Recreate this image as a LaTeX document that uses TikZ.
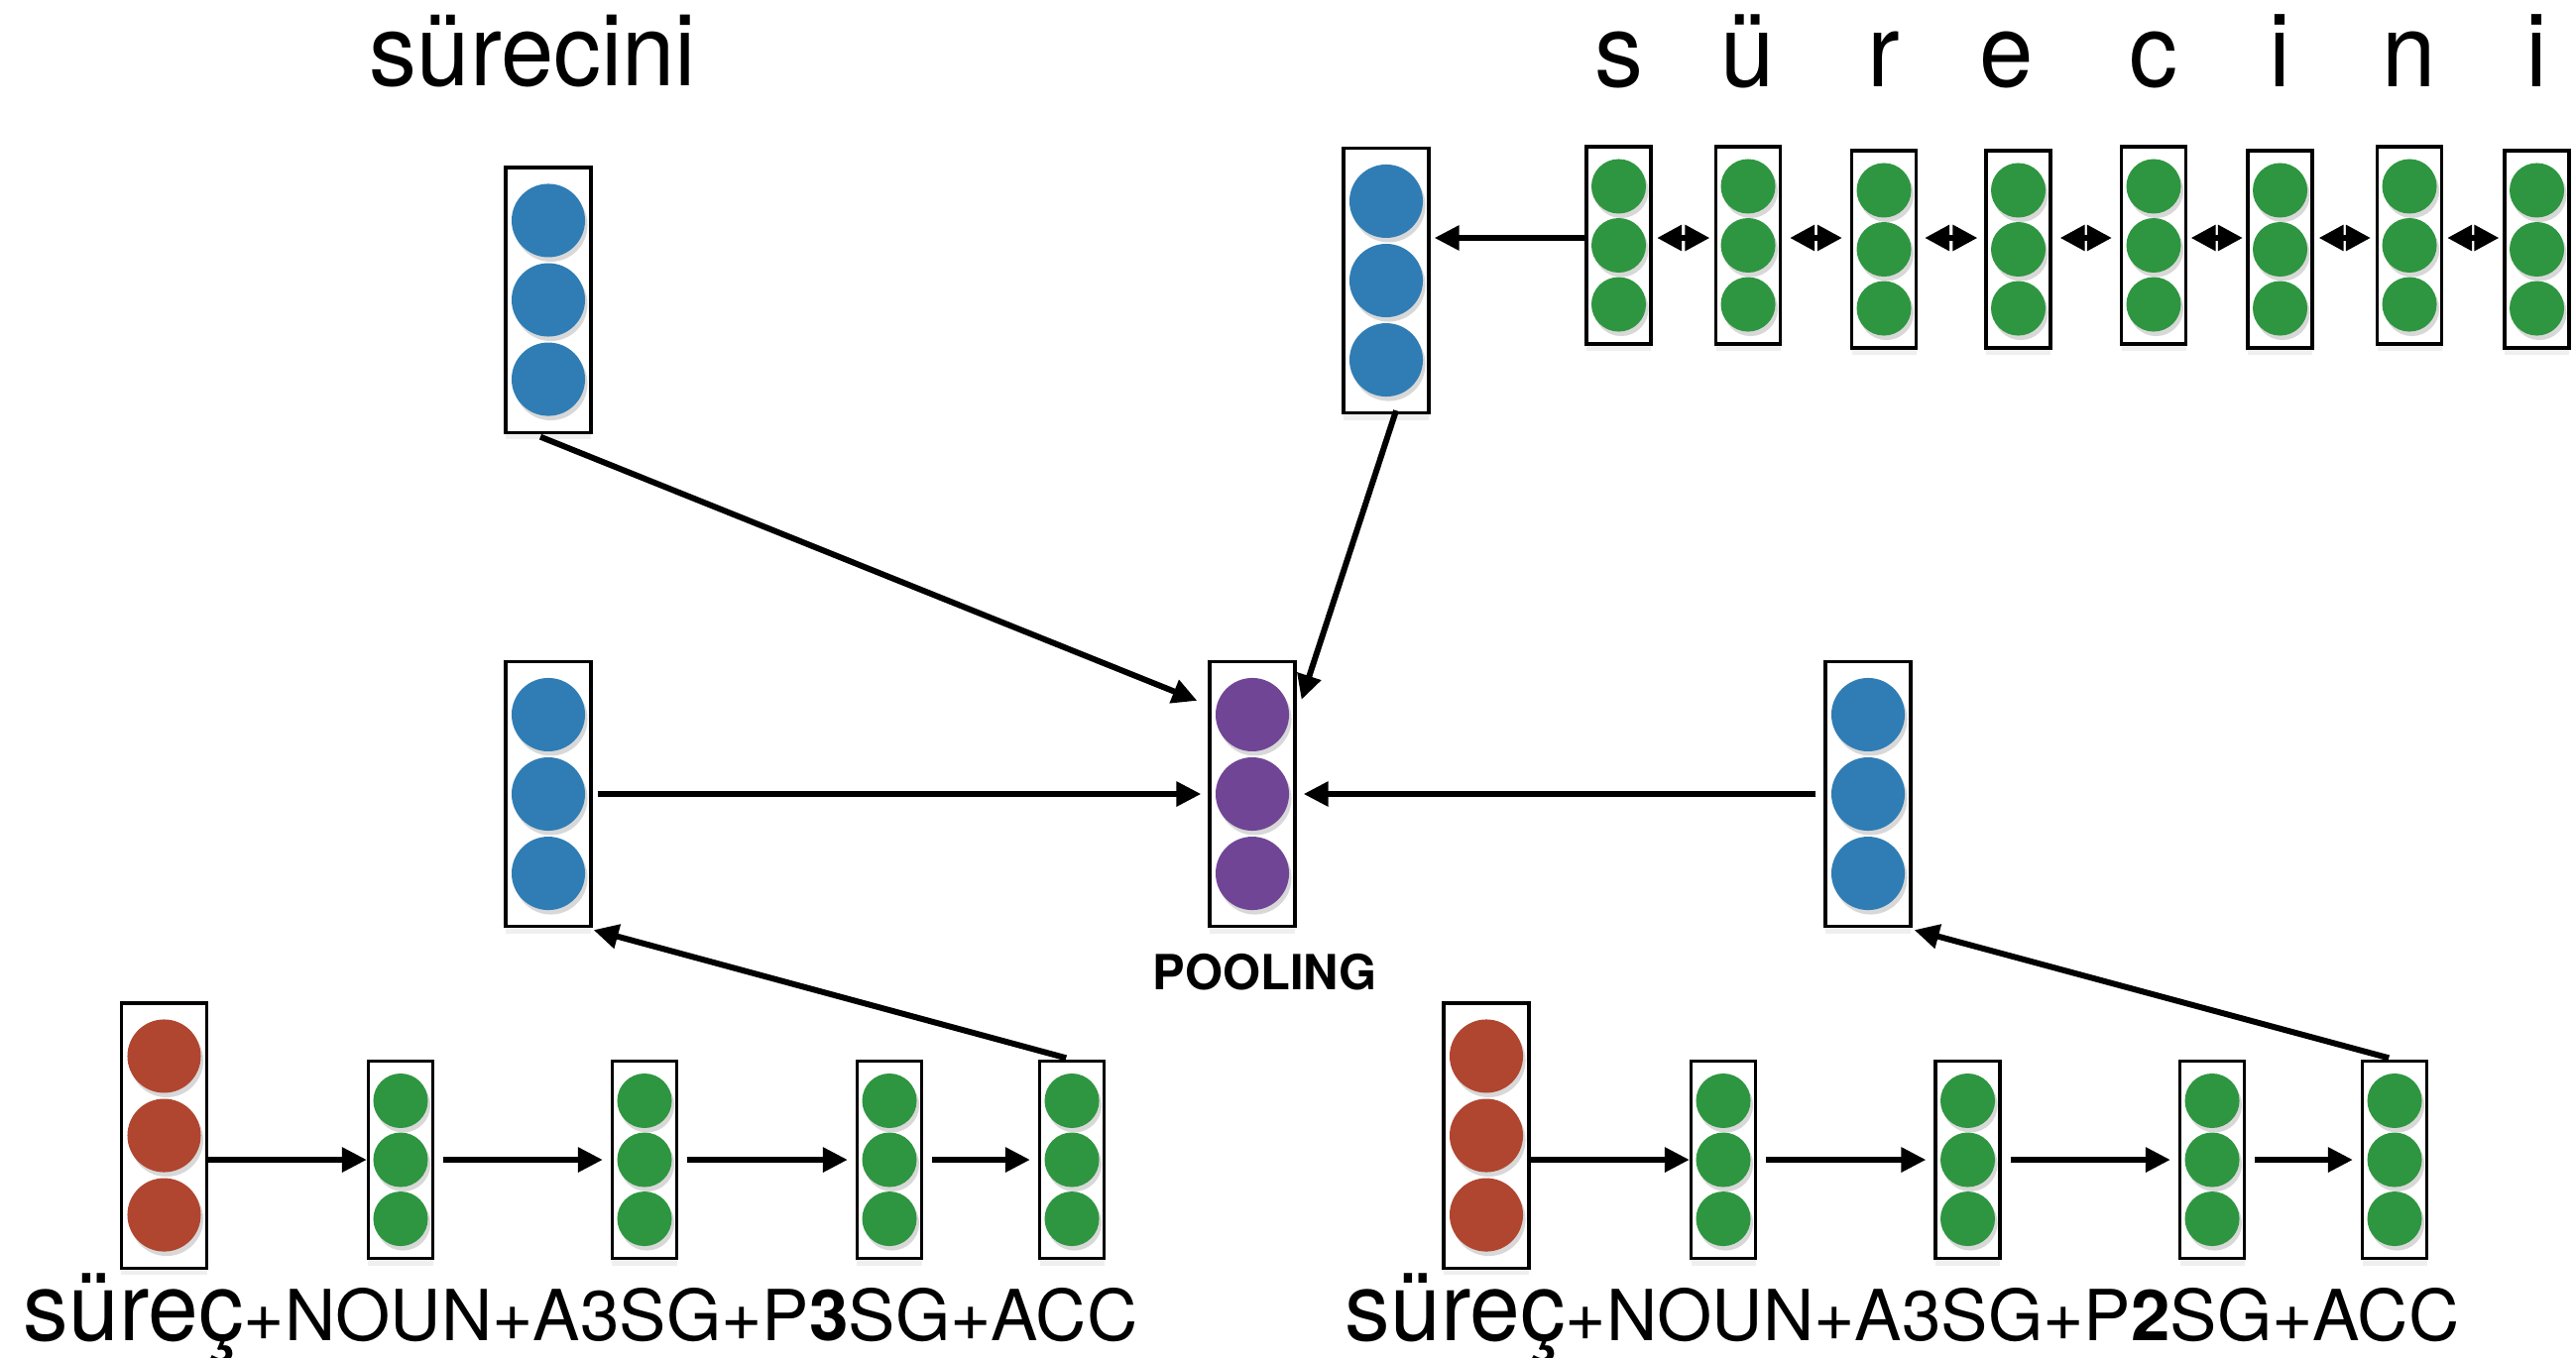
\documentclass[tikz,border=0pt]{standalone}
\usepackage{fontspec}
\usepackage{tikz}
\usetikzlibrary{positioning,arrows.meta,shadows,calc}
\newfontfamily\wordfont{TeX Gyre Heros}[FakeStretch=0.95]
\newfontfamily\tagfont{TeX Gyre Heros}
\definecolor{vecblue}{HTML}{2F7DB4}
\definecolor{vecgreen}{HTML}{2E9640}
\definecolor{vecred}{HTML}{B04630}
\definecolor{vecpurple}{HTML}{704596}
\tikzset{
  dotshadow/.style ={drop shadow={opacity=0.3,shadow xshift=0.25mm,shadow yshift=-0.45mm}},
  vecbox/.style    ={draw=black,line width=0.9pt,fill=white,inner sep=0pt,
                     drop shadow={opacity=0.12,shadow xshift=0pt,shadow yshift=-0.7mm}},
  bigvec/.style    ={vecbox,minimum width=8.6mm,minimum height=26.7mm,
                     path picture={
                       \fill[#1,dotshadow] ([yshift=8mm]path picture bounding box.center) circle[radius=3.7mm];
                       \fill[#1,dotshadow] (path picture bounding box.center) circle[radius=3.7mm];
                       \fill[#1,dotshadow] ([yshift=-8mm]path picture bounding box.center) circle[radius=3.7mm];}},
  smallvec/.style  ={vecbox,minimum width=6.5mm,minimum height=19.9mm,
                     path picture={
                       \fill[#1,dotshadow] ([yshift=5.95mm]path picture bounding box.center) circle[radius=2.75mm];
                       \fill[#1,dotshadow] (path picture bounding box.center) circle[radius=2.75mm];
                       \fill[#1,dotshadow] ([yshift=-5.95mm]path picture bounding box.center) circle[radius=2.75mm];}},
  word/.style      ={font=\wordfont\fontsize{28.7pt}{30pt}\selectfont,anchor=base,inner sep=0pt},
  chr/.style       ={word,font=\wordfont\fontsize{29.3pt}{31pt}\selectfont},
  gloss/.style     ={anchor=base west,inner sep=0pt},
  lbl/.style       ={font=\tagfont\bfseries\fontsize{13.9pt}{15pt}\selectfont,anchor=base,inner sep=0pt},
  arr/.style       ={-{Triangle[length=2.5mm,width=2.4mm]},line width=1.7pt},
  dblarr/.style    ={{Triangle[length=2.5mm,width=2.5mm]}-{Triangle[length=2.5mm,width=2.5mm]},line width=1.7pt},
}
\newcommand{\stemtxt}[1]{{\wordfont\fontsize{27.3pt}{29pt}\selectfont #1}}
\newcommand{\tagtxt}[1]{{\tagfont\fontsize{20.2pt}{22pt}\selectfont #1}}

\begin{document}
\begin{tikzpicture}[x=0.01cm,y=-0.01cm]
  \path[use as bounding box,fill=white] (0,0) rectangle (2598,1369);

  % word vector
  \node[word] (wtop) at (537.5,86) {sürecini};
  \node[bigvec=vecblue] (tl) at (553,302.5) {};

  % character encoder
  \node[bigvec=vecblue] (tr) at (1398,283) {};
  \node[smallvec=vecgreen] (c1) at (1632.5,247.5) {};
  \node[smallvec=vecgreen] (c2) at (1763,247.5) {};
  \node[smallvec=vecgreen] (c3) at (1900,251.5) {};
  \node[smallvec=vecgreen] (c4) at (2035.5,251.5) {};
  \node[smallvec=vecgreen] (c5) at (2172,247.5) {};
  \node[smallvec=vecgreen] (c6) at (2299.5,251.5) {};
  \node[smallvec=vecgreen] (c7) at (2430,247.5) {};
  \node[smallvec=vecgreen] (c8) at (2558.5,251.5) {};
  \coordinate (toprow) at (0,240);
  \coordinate (chrline) at (0,87);
  \node[chr] (s1) at (c1 |- chrline) {s};
  \node[chr] (s2) at (c2 |- chrline) {ü};
  \node[chr] (s3) at (c3 |- chrline) {r};
  \node[chr] (s4) at (2024,87) {e};
  \node[chr] (s5) at (c5 |- chrline) {c};
  \node[chr] (s6) at (c6 |- chrline) {i};
  \node[chr] (s7) at (c7 |- chrline) {n};
  \node[chr] (s8) at (c8 |- chrline) {i};

  % pooling row
  \node[bigvec=vecblue] (ml) at (553,801) {};
  \node[bigvec=vecpurple] (pool) at (1263,801) {};
  \node[bigvec=vecblue] (mr) at (1884,801) {};
  \node[lbl] (plbl) at (1275.5,998) {POOLING};

  % morphological analyses
  \node[bigvec=vecred] (rl) at (165.5,1145.5) {};
  \node[smallvec=vecgreen] (gl1) at (404,1170) {};
  \node[smallvec=vecgreen] (gl2) at (650,1170) {};
  \node[smallvec=vecgreen] (gl3) at (897,1170) {};
  \node[smallvec=vecgreen] (gl4) at (1081,1170) {};
  \node[gloss] (al) at (23,1352) {\stemtxt{süreç}\tagtxt{+NOUN+A3SG+P\textbf{3}SG+ACC}};
  \node[bigvec=vecred] (rr) at (1499,1145.5) {};
  \node[smallvec=vecgreen] (gr1) at (1738,1170) {};
  \node[smallvec=vecgreen] (gr2) at (1984.5,1170) {};
  \node[smallvec=vecgreen] (gr3) at (2231,1170) {};
  \node[smallvec=vecgreen] (gr4) at (2415,1170) {};
  \node[gloss] (ar) at (1356,1352) {\stemtxt{süreç}\tagtxt{+NOUN+A3SG+P\textbf{2}SG+ACC}};

  \draw[arr,shorten >=0.4mm] (c1.west |- toprow) -- (tr.east |- toprow);
  \draw[dblarr,shorten <=0.45mm,shorten >=0.45mm] (c1.east |- toprow) -- (c2.west |- toprow);
  \draw[dblarr,shorten <=0.8mm,shorten >=0.8mm] (c2.east |- toprow) -- (c3.west |- toprow);
  \draw[dblarr,shorten <=0.7mm,shorten >=0.7mm] (c3.east |- toprow) -- (c4.west |- toprow);
  \draw[dblarr,shorten <=0.8mm,shorten >=0.8mm] (c4.east |- toprow) -- (c5.west |- toprow);
  \draw[dblarr,shorten <=0.35mm,shorten >=0.35mm] (c5.east |- toprow) -- (c6.west |- toprow);
  \draw[dblarr,shorten <=0.5mm,shorten >=0.5mm] (c6.east |- toprow) -- (c7.west |- toprow);
  \draw[dblarr,shorten <=0.4mm,shorten >=0.4mm] (c7.east |- toprow) -- (c8.west |- toprow);

  \draw[arr] ([xshift=-0.8mm,yshift=-0.3mm]tl.south) -- ([xshift=-1.1mm,yshift=-4.1mm]pool.north west);
  \draw[arr] ([xshift=1mm,yshift=0.4mm]tr.south) -- ([xshift=0.5mm,yshift=-4mm]pool.north east);
  \draw[arr,shorten <=0.5mm,shorten >=0.7mm] (ml) -- (pool);
  \draw[arr,shorten <=0.8mm,shorten >=0.7mm] (mr) -- (pool);

  \draw[arr] (rl.east |- gl1.west) -- (gl1.west);
  \draw[arr,shorten <=0.9mm,shorten >=0.8mm] (gl1) -- (gl2);
  \draw[arr,shorten <=0.9mm,shorten >=0.8mm] (gl2) -- (gl3);
  \draw[arr,shorten <=0.9mm,shorten >=0.8mm] (gl3) -- (gl4);
  \draw[arr,shorten <=0.6mm] (gl4.north) -- ([xshift=0.1mm,yshift=-0.2mm]ml.south east);

  \draw[arr] (rr.east |- gr1.west) -- (gr1.west);
  \draw[arr,shorten <=0.9mm,shorten >=0.8mm] (gr1) -- (gr2);
  \draw[arr,shorten <=0.9mm,shorten >=0.8mm] (gr2) -- (gr3);
  \draw[arr,shorten <=0.9mm,shorten >=0.8mm] (gr3) -- (gr4);
  \draw[arr,shorten <=0.6mm] (gr4.north) -- ([xshift=0.2mm,yshift=-0.2mm]mr.south east);
\end{tikzpicture}
\end{document}
